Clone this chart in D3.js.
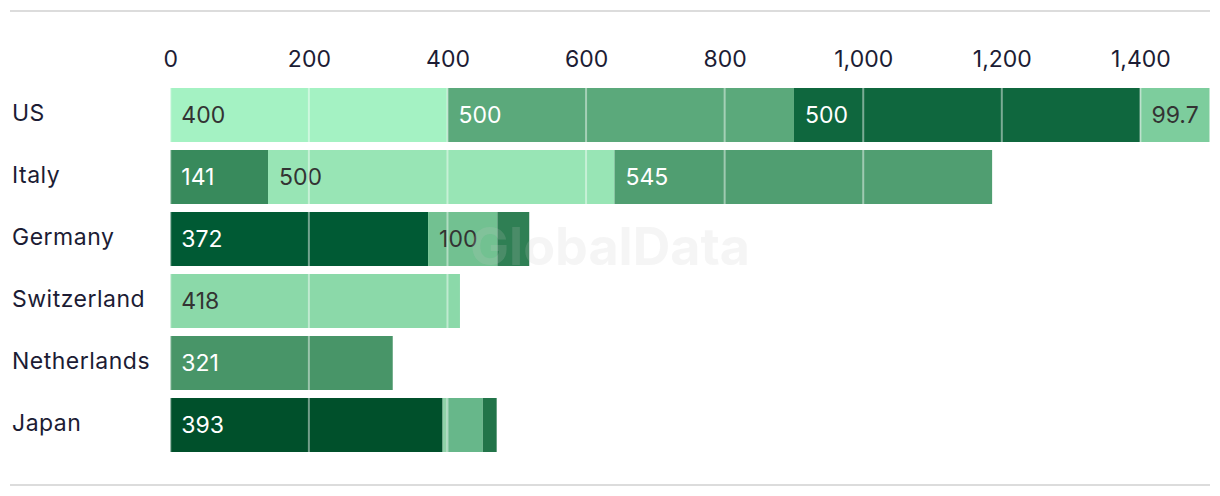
<!DOCTYPE html>
<html>
<head>
<meta charset="utf-8">
<script src="https://cdn.jsdelivr.net/npm/d3@7/dist/d3.min.js"></script>
<style>
  html, body { margin: 0; padding: 0; background: #ffffff; }
  svg { display: block; }
  text { font-family: Inter, "Noto Sans", sans-serif; }
</style>
</head>
<body>
<svg id="chart" width="1220" height="496"></svg>
<script>
// ---- data ----
const categories = ["US", "Italy", "Germany", "Switzerland", "Netherlands", "Japan"];
const segment1 = [400, 141, 372, 418, 321, 393];
const segment2 = [500, 500, 100, 0, 0, 6];
const segment3 = [500, 545, 46, 0, 0, 52];
const segment4 = [99.7, 0, 0, 0, 0, 20];
const tickValues = [0, 200, 400, 600, 800, 1000, 1200, 1400];

// colours per country per segment (styling)
const segmentColors = [
  ["#a4f2c3", "#5ba97b", "#0f673e", "#7dcd9d"],
  ["#388a5c", "#98e5b5", "#509e71", "#509e71"],
  ["#005a34", "#72c191", "#2f7f54", "#2f7f54"],
  ["#8bd9a9", "#8bd9a9", "#8bd9a9", "#8bd9a9"],
  ["#489568", "#489568", "#489568", "#489568"],
  ["#00502b", "#8fd2a8", "#67b78a", "#227449"]
];
const darkText = "#333333";

const segments = [segment1, segment2, segment3, segment4];

const svg = d3.select("#chart");

const x = d3.scaleLinear().domain([0, 1500]).range([170.3, 1209.7]);
const y = d3.scaleBand().domain(categories).range([84, 456]).paddingInner(8 / 62).paddingOuter(4 / 62);

// top & bottom rules
svg.append("line").attr("x1", 10).attr("x2", 1210).attr("y1", 11).attr("y2", 11)
  .attr("stroke", "#dcdcdc").attr("stroke-width", 2);
svg.append("line").attr("x1", 10).attr("x2", 1210).attr("y1", 485).attr("y2", 485)
  .attr("stroke", "#dcdcdc").attr("stroke-width", 2);

// build stacked rows
const rows = categories.map((c, i) => {
  let acc = 0;
  const segs = [];
  segments.forEach((arr, k) => {
    const v = arr[i];
    if (v > 0) {
      segs.push({ cat: c, k, v, x0: acc, x1: acc + v, color: segmentColors[i][k] });
      acc += v;
    }
  });
  return segs;
}).flat();

function isDark(hex) {
  const c = d3.color(hex);
  const l = 0.299 * c.r + 0.587 * c.g + 0.114 * c.b;
  return l < 150;
}

const g = svg.append("g");
g.selectAll("rect.bar").data(rows).join("rect")
  .attr("class", "bar")
  .attr("x", d => x(d.x0))
  .attr("width", d => x(d.x1) - x(d.x0))
  .attr("y", d => y(d.cat))
  .attr("height", y.bandwidth())
  .attr("fill", d => d.color);

// gridlines over bars
const grid = svg.append("g");
grid.selectAll("line").data(tickValues).join("line")
  .attr("x1", d => x(d)).attr("x2", d => x(d))
  .attr("y1", y(categories[0])).attr("y2", y(categories[categories.length - 1]) + y.bandwidth())
  .attr("stroke", "#ffffff").attr("stroke-opacity", 0.45).attr("stroke-width", 2);

// value labels
g.selectAll("text.val").data(rows.filter(d => x(d.x1) - x(d.x0) > 55)).join("text")
  .attr("class", "val")
  .attr("x", d => x(d.x0) + 11)
  .attr("y", d => y(d.cat) + y.bandwidth() / 2)
  .attr("dy", "0.36em")
  .attr("font-size", 23)
  .attr("fill", d => isDark(d.color) ? "#ffffff" : darkText)
  .text(d => d3.format(",")(d.v));

// x axis (top)
const xAxis = d3.axisTop(x).tickValues(tickValues).tickSize(0).tickPadding(0).tickFormat(d3.format(","));
const ax = svg.append("g").attr("transform", "translate(0,67)").call(xAxis);
ax.select(".domain").remove();
ax.selectAll("text").attr("font-family", "Inter, sans-serif").attr("font-size", 23)
  .attr("fill", "#1c1c34").attr("dy", 0);

// category labels
const yAxis = d3.axisLeft(y).tickSize(0).tickPadding(0);
const ay = svg.append("g").attr("transform", "translate(12,0)").call(yAxis);
ay.select(".domain").remove();
ay.selectAll("text").attr("text-anchor", "start").attr("font-family", "Inter, sans-serif")
  .attr("font-size", 23).attr("letter-spacing", "0.5px").attr("fill", "#1c1c34").attr("dy", "0.26em");

// watermark
svg.append("text").attr("x", 610).attr("y", 265).attr("text-anchor", "middle")
  .attr("font-size", 52).attr("font-weight", 700)
  .attr("fill", "#c8c8c8").attr("fill-opacity", 0.18)
  .text("GlobalData");
</script>
</body>
</html>
